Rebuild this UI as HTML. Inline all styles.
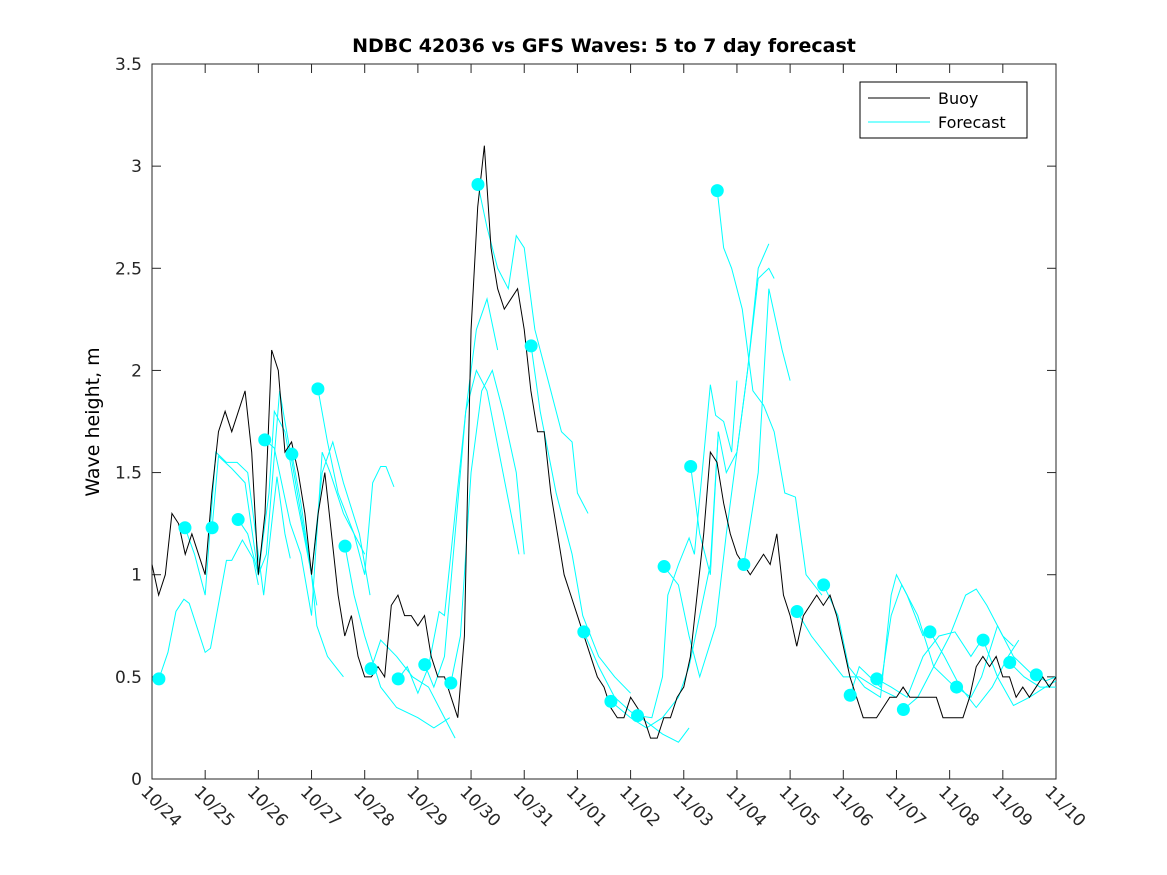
<!DOCTYPE html>
<html><head><meta charset="utf-8"><style>
body{margin:0;background:#fff;}
svg{display:block;font-family:"DejaVu Sans","Liberation Sans",sans-serif;}
</style></head><body>
<svg id="chart" width="1167" height="875" viewBox="0 0 1167 875">
<rect x="0" y="0" width="1167" height="875" fill="#fff"/>
<text x="604" y="52" text-anchor="middle" font-size="19" font-weight="bold">NDBC 42036 vs GFS Waves: 5 to 7 day forecast</text>
<text transform="translate(99,422) rotate(-90)" text-anchor="middle" font-size="19">Wave height, m</text>
<g id="axes"></g>
<g id="series"></g>
<g>
<rect x="860" y="82" width="167" height="56" fill="#fff" stroke="#000" stroke-width="1"/>
<line x1="868" y1="98" x2="930" y2="98" stroke="#000" stroke-width="1"/>
<text x="938" y="104" font-size="16">Buoy</text>
<line x1="868" y1="122" x2="930" y2="122" stroke="#00ffff" stroke-width="1"/>
<text x="938" y="128" font-size="16">Forecast</text>
</g>
</svg>
<script>
const xTickLabels=["10/24","10/25","10/26","10/27","10/28","10/29","10/30","10/31","11/01","11/02","11/03","11/04","11/05","11/06","11/07","11/08","11/09","11/10"];
const yTicks=[0,0.5,1,1.5,2,2.5,3,3.5];
const buoyStep=0.125;
const buoyValues=[1.05,0.9,1.0,1.3,1.25,1.1,1.2,1.1,1.0,1.4,1.7,1.8,1.7,1.8,1.9,1.6,1.0,1.3,2.1,2.0,1.6,1.65,1.5,1.3,1.0,1.3,1.5,1.2,0.9,0.7,0.8,0.6,0.5,0.5,0.55,0.5,0.85,0.9,0.8,0.8,0.75,0.8,0.6,0.5,0.5,0.4,0.3,0.7,2.2,2.8,3.1,2.6,2.4,2.3,2.35,2.4,2.2,1.9,1.7,1.7,1.4,1.2,1.0,0.9,0.8,0.7,0.6,0.5,0.45,0.35,0.3,0.3,0.4,0.35,0.3,0.2,0.2,0.3,0.3,0.4,0.45,0.6,0.9,1.2,1.6,1.55,1.35,1.2,1.1,1.05,1.0,1.05,1.1,1.05,1.2,0.9,0.8,0.65,0.8,0.85,0.9,0.85,0.9,0.8,0.65,0.5,0.4,0.3,0.3,0.3,0.35,0.4,0.4,0.45,0.4,0.4,0.4,0.4,0.4,0.3,0.3,0.3,0.3,0.4,0.55,0.6,0.55,0.6,0.5,0.5,0.4,0.45,0.4,0.45,0.5,0.45,0.5];
const forecastRuns=[
[[0.13,0.49],[0.3,0.62],[0.45,0.82],[0.6,0.88],[0.7,0.86],[1.0,0.62],[1.1,0.64],[1.4,1.07],[1.5,1.07],[1.7,1.17],[1.9,1.08],[2.0,0.95]],
[[0.62,1.23],[0.8,1.1],[1.0,0.9],[1.2,1.6],[1.4,1.55],[1.6,1.55],[1.8,1.5],[2.0,1.1],[2.1,0.9],[2.35,1.48],[2.5,1.2],[2.6,1.08]],
[[1.13,1.23],[1.25,1.58],[1.5,1.52],[1.75,1.45],[2.0,1.0],[2.15,1.1],[2.4,1.9],[2.6,1.6],[2.9,1.15],[3.1,0.85]],
[[1.62,1.27],[1.8,1.2],[2.0,1.0],[2.2,1.4],[2.3,1.8],[2.5,1.7],[2.7,1.4],[3.0,1.0],[3.1,0.75],[3.3,0.6],[3.45,0.55],[3.6,0.5]],
[[2.12,1.66],[2.3,1.62],[2.6,1.25],[2.8,1.1],[3.0,0.8],[3.2,1.6],[3.35,1.5],[3.6,1.3],[3.8,1.2],[4.0,1.1]],
[[2.63,1.59],[2.8,1.35],[3.0,1.0],[3.2,1.5],[3.4,1.65],[3.6,1.45],[3.9,1.2],[4.1,0.9]],
[[3.12,1.91],[3.3,1.65],[3.5,1.4],[3.8,1.2],[4.0,1.0],[4.15,1.45],[4.3,1.53],[4.4,1.53],[4.55,1.43]],
[[3.63,1.14],[3.8,0.9],[4.0,0.7],[4.3,0.45],[4.6,0.35],[5.0,0.3],[5.3,0.25],[5.6,0.3]],
[[4.12,0.54],[4.3,0.68],[4.6,0.6],[4.9,0.5],[5.2,0.45],[5.5,0.3],[5.7,0.2]],
[[4.63,0.49],[4.8,0.55],[5.0,0.42],[5.2,0.55],[5.4,0.82],[5.5,0.8],[5.7,1.3],[5.9,1.8],[6.1,2.2],[6.3,2.35],[6.5,2.1]],
[[5.13,0.56],[5.3,0.45],[5.5,0.6],[5.7,1.2],[5.9,1.8],[6.1,2.0],[6.3,1.9],[6.6,1.5],[6.9,1.1]],
[[5.62,0.47],[5.8,0.7],[6.0,1.5],[6.2,1.9],[6.4,2.0],[6.6,1.8],[6.85,1.5],[7.0,1.1]],
[[6.13,2.91],[6.3,2.7],[6.5,2.5],[6.7,2.4],[6.85,2.66],[7.0,2.6],[7.2,2.2],[7.5,1.9],[7.7,1.7],[7.9,1.65],[8.0,1.4],[8.2,1.3]],
[[7.13,2.12],[7.3,1.8],[7.6,1.4],[7.9,1.1],[8.1,0.8],[8.4,0.6],[8.7,0.5],[9.0,0.42]],
[[8.12,0.72],[8.4,0.55],[8.7,0.4],[9.0,0.33],[9.3,0.28],[9.6,0.22],[9.9,0.18],[10.1,0.25]],
[[8.63,0.38],[9.0,0.3],[9.3,0.25],[9.6,0.3],[9.9,0.4],[10.1,0.55],[10.3,0.8],[10.5,1.05],[10.65,1.7]],
[[9.13,0.31],[9.4,0.3],[9.6,0.5],[9.7,0.9],[9.9,1.05],[10.1,1.18],[10.2,1.1],[10.4,1.65],[10.5,1.93],[10.6,1.78],[10.75,1.75],[10.9,1.6],[11.0,1.95]],
[[9.63,1.04],[9.9,0.95],[10.1,0.7],[10.3,0.5],[10.6,0.75],[10.8,1.2],[11.0,1.6],[11.2,2.0],[11.4,2.45],[11.6,2.5],[11.7,2.45]],
[[10.13,1.53],[10.3,1.2],[10.5,1.0],[10.65,1.7],[10.8,1.5],[11.0,1.6],[11.2,2.0],[11.4,2.5],[11.6,2.62]],
[[10.63,2.88],[10.75,2.6],[10.9,2.5],[11.1,2.3],[11.3,1.9],[11.5,1.83],[11.7,1.7],[11.9,1.4],[12.1,1.38],[12.3,1.0],[12.6,0.9]],
[[11.13,1.05],[11.4,1.5],[11.6,2.4],[11.85,2.1],[12.0,1.95]],
[[12.13,0.82],[12.4,0.7],[12.7,0.6],[13.0,0.5],[13.3,0.5],[13.6,0.45],[14.0,0.4]],
[[12.63,0.95],[12.9,0.8],[13.1,0.55],[13.4,0.45],[13.7,0.4],[13.9,0.9],[14.0,1.0],[14.2,0.9],[14.5,0.7]],
[[13.13,0.41],[13.3,0.55],[13.5,0.5],[13.7,0.45],[13.9,0.8],[14.1,0.95],[14.4,0.8],[14.7,0.55],[15.1,0.45]],
[[13.63,0.49],[13.9,0.45],[14.2,0.4],[14.5,0.6],[14.8,0.7],[15.1,0.72],[15.4,0.6],[15.6,0.68]],
[[14.13,0.34],[14.4,0.4],[14.7,0.55],[15.0,0.7],[15.3,0.9],[15.5,0.93],[15.7,0.85],[16.0,0.7],[16.2,0.65]],
[[14.63,0.72],[14.9,0.6],[15.2,0.45],[15.5,0.35],[15.8,0.45],[16.1,0.6],[16.3,0.68]],
[[15.13,0.45],[15.4,0.4],[15.6,0.5],[15.9,0.75],[16.2,0.6],[16.4,0.55],[16.6,0.5]],
[[15.63,0.68],[15.9,0.5],[16.2,0.36],[16.5,0.4],[16.8,0.45],[17,0.48]],
[[16.13,0.57],[16.4,0.5],[16.7,0.45],[17,0.45]],
[[16.63,0.51],[16.8,0.48],[17,0.5]]
];
const X0=152,X1=1056,Y0=779,Y1=64;
const xMin=0,xMax=17,yMin=0,yMax=3.5;
function xs(d){return X0+(d-xMin)/(xMax-xMin)*(X1-X0);}
function ys(v){return Y0-(v-yMin)/(yMax-yMin)*(Y0-Y1);}
const NS="http://www.w3.org/2000/svg";
function mk(t,a,p){const e=document.createElementNS(NS,t);for(const k in a)e.setAttribute(k,a[k]);p.appendChild(e);return e;}
const ax=document.getElementById('axes'),sg=document.getElementById('series');
const frame=mk('rect',{x:X0,y:Y1,width:X1-X0,height:Y0-Y1,fill:'none',stroke:'#262626','stroke-width':1},ax);


xTickLabels.forEach((l,i)=>{
 const x=xs(i);
 const t1=mk('line',{x1:x,y1:Y0,x2:x,y2:Y0-9,stroke:'#262626'},ax);
 
 
 mk('line',{x1:x,y1:Y1,x2:x,y2:Y1+9,stroke:'#262626'},ax);
 const t=mk('text',{x:0,y:0,'font-size':17,fill:'#262626',transform:`translate(${x-12},${Y0+14}) rotate(45)`},ax);
 
 
 t.textContent=l;
});
yTicks.forEach(v=>{
 const y=ys(v);
 const t1=mk('line',{x1:X0,y1:y,x2:X0+9,y2:y,stroke:'#262626'},ax);
 
 
 mk('line',{x1:X1,y1:y,x2:X1-9,y2:y,stroke:'#262626'},ax);
 const t=mk('text',{x:X0-10,y:y+6,'font-size':17,'text-anchor':'end',fill:'#262626'},ax);
 
 
 t.textContent=String(v);
});
forecastRuns.forEach(run=>{
 const p=mk('polyline',{points:run.map(q=>xs(q[0])+','+ys(q[1])).join(' '),fill:'none',stroke:'#00ffff','stroke-width':1},sg);
 
 
});
const pts=buoyValues.map((v,i)=>xs(i*buoyStep)+','+ys(v));
const b=mk('polyline',{points:pts.join(' '),fill:'none',stroke:'#000','stroke-width':1},sg);


forecastRuns.forEach(run=>{
 const c=mk('circle',{cx:xs(run[0][0]),cy:ys(run[0][1]),r:6.5,fill:'#00ffff'},sg);
 
 
});
</script>
</body></html>
